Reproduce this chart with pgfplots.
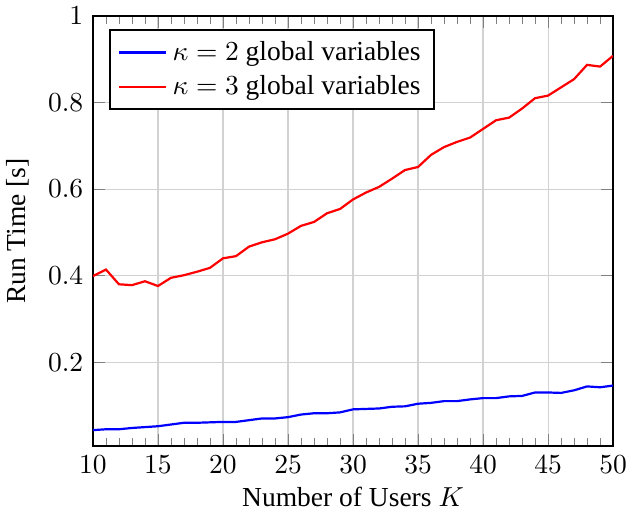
\documentclass[border=0pt]{standalone}
\usepackage{fontspec}
\setmainfont{Liberation Serif}
\usepackage{pgfplots}
\pgfplotsset{compat=1.18}
\begin{document}
\begin{tikzpicture}
\begin{axis}[
  name=ax,
  scale only axis,
  width=189.1pt, height=156.4pt,
  xmin=10, xmax=50, ymin=0.006, ymax=1,
  xtick={10,15,...,50},
  ytick={0.2,0.4,0.6,0.8,1},
  minor x tick num=4,
  grid=major,
  major grid style={gray!35, line width=0.4pt},
  axis line style={line width=0.8pt},
  xlabel={Number of Users $K$},
  xlabel style={yshift=2pt},
  ylabel={Run Time [s]},
  legend pos=north west,
  legend cell align=left,
  legend style={line width=0.8pt, font=\normalsize},
]
\addplot[blue, thick] coordinates {
(10,0.043)(11,0.045)(12,0.045)(13,0.048)(14,0.050)(15,0.052)(16,0.056)(17,0.060)(18,0.060)(19,0.061)
(20,0.062)(21,0.062)(22,0.066)(23,0.070)(24,0.070)(25,0.073)(26,0.079)(27,0.082)(28,0.082)(29,0.084)
(30,0.091)(31,0.092)(32,0.093)(33,0.097)(34,0.098)(35,0.104)(36,0.106)(37,0.110)(38,0.110)(39,0.114)
(40,0.117)(41,0.117)(42,0.121)(43,0.122)(44,0.130)(45,0.130)(46,0.129)(47,0.135)(48,0.144)(49,0.142)
(50,0.146)};
\addlegendentry{$\kappa=2$ global variables}
\addplot[red, thick] coordinates {
(10,0.399)(11,0.414)(12,0.380)(13,0.378)(14,0.387)(15,0.376)(16,0.395)(17,0.401)(18,0.409)(19,0.418)
(20,0.440)(21,0.445)(22,0.467)(23,0.477)(24,0.484)(25,0.497)(26,0.515)(27,0.524)(28,0.544)(29,0.554)
(30,0.576)(31,0.592)(32,0.605)(33,0.624)(34,0.644)(35,0.651)(36,0.679)(37,0.697)(38,0.709)(39,0.719)
(40,0.739)(41,0.759)(42,0.765)(43,0.786)(44,0.810)(45,0.816)(46,0.835)(47,0.854)(48,0.887)(49,0.883)
(50,0.908)};
\addlegendentry{$\kappa=3$ global variables}
\end{axis}
\pgfresetboundingbox
\path ([shift={(-33.8pt,-24.6pt)}]ax.south west) rectangle ([shift={(4.7pt,5.8pt)}]ax.north east);
\end{tikzpicture}
\end{document}
